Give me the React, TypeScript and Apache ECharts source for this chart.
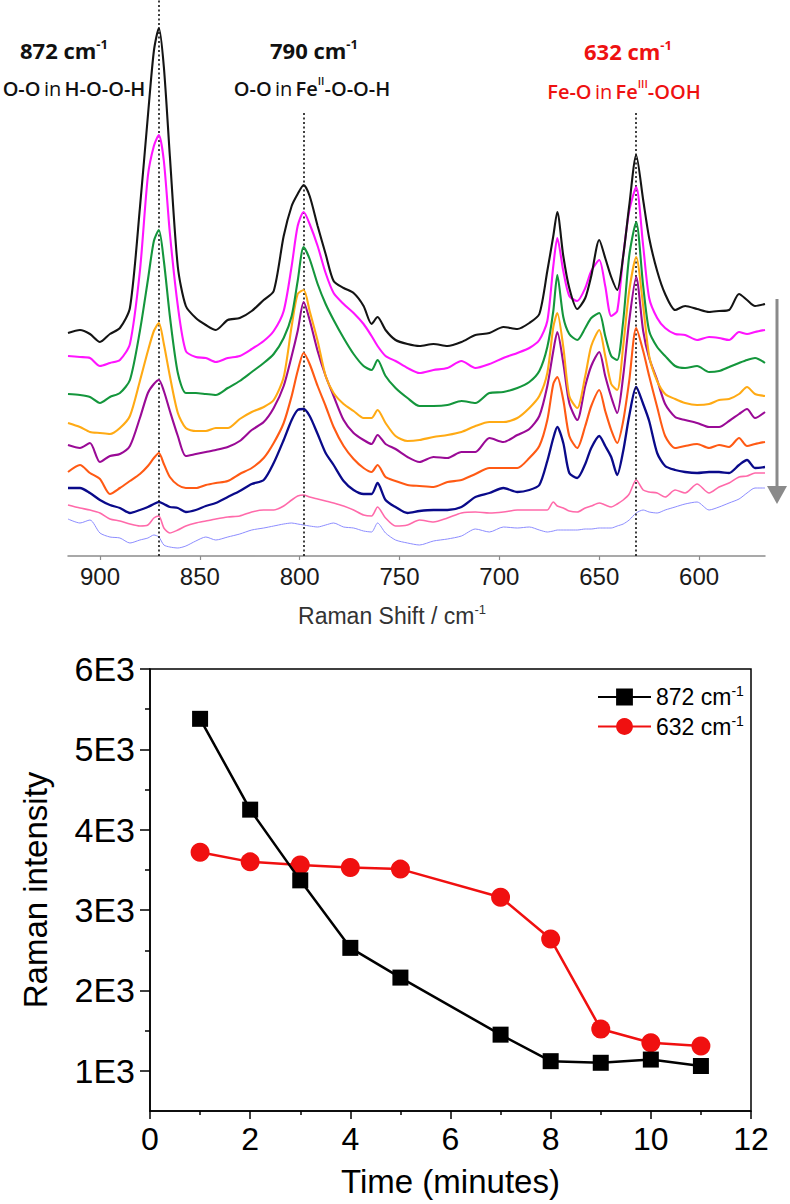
import React, { useEffect, useRef } from "react";
import * as echarts from "echarts";

// ---------- Top panel: Raman spectra (wavenumber grid, intensity in arbitrary offset units) ----------
const ramanShift = [
  916, 910, 905, 900, 895, 890, 885, 880, 876, 873,
  870.5, 868, 865, 861, 857, 852, 847, 842, 836, 830,
  824, 818, 813, 808, 804, 801, 798, 795, 791, 787,
  783, 778, 773, 768, 764, 761, 757, 752, 746, 740,
  733, 726, 719, 712, 705, 698, 691, 685, 680, 676,
  673, 671, 668, 665, 661, 657, 654, 650, 647, 644,
  641, 638, 635, 631.5, 628, 625, 621, 617, 612, 607,
  601, 595, 590, 585, 580, 576, 572, 567,
];

const traceBlack = [
  223, 226, 222, 214, 222, 228, 248, 348, 440, 505,
  528, 489, 400, 289, 250, 238, 231, 226, 236, 238,
  245, 256, 265, 320, 350, 362, 371, 360, 330, 302,
  275, 268, 263, 250, 232, 239, 226, 216, 212, 210,
  212, 210, 214, 221, 223, 229, 227, 233, 242, 285,
  320, 344, 300, 268, 247, 258, 280, 316, 298, 279,
  266, 300, 350, 401, 356, 318, 285, 262, 246, 250,
  247, 244, 245, 246, 262, 256, 250, 252,
];
const traceMagenta = [
  200, 199, 198, 190, 193, 196, 212, 285, 380, 410,
  421, 395, 323, 250, 205, 199, 198, 194, 198, 200,
  207, 215, 225, 245, 290, 330, 344, 332, 310, 283,
  263, 252, 243, 232, 220, 210, 200, 195, 188, 183,
  186, 188, 195, 188, 192, 198, 203, 208, 216, 235,
  290, 318, 285, 260, 255, 268, 285, 296, 270, 240,
  245, 300, 345, 369, 310, 258, 238, 228, 222, 221,
  216, 219, 218, 216, 224, 222, 224, 226,
];
const traceGreen = [
  162, 161, 159, 153, 159, 163, 176, 225, 276, 315,
  326, 295, 240, 183, 163, 163, 162, 161, 168, 175,
  184, 193, 202, 218, 240, 275, 309, 297, 272, 252,
  236, 218, 202, 190, 186, 196, 180, 168, 158, 150,
  150, 151, 155, 153, 163, 164, 168, 174, 185, 209,
  245, 281, 239, 222, 216, 228, 238, 243, 220, 200,
  196, 235, 300, 334, 270, 225, 209, 200, 190, 188,
  190, 184, 185, 189, 193, 196, 198, 193,
];
const traceOrange = [
  133, 129, 124, 123, 122, 128, 140, 175, 205, 225,
  233, 212, 180, 143, 128, 125, 125, 128, 128, 137,
  144, 149, 156, 179, 230, 262, 266, 245, 215, 180,
  163, 152, 145, 138, 138, 146, 133, 120, 115, 116,
  119, 121, 124, 130, 134, 134, 138, 148, 160, 183,
  229, 243, 209, 160, 148, 180, 210, 226, 200, 172,
  166, 210, 265, 299, 250, 200, 175, 162, 157, 153,
  151, 152, 156, 157, 162, 169, 162, 160,
];
const tracePurple = [
  111, 108, 113, 94, 100, 102, 110, 138, 163, 172,
  176, 165, 145, 120, 100, 102, 104, 106, 109, 115,
  126, 134, 148, 170, 200, 225, 254, 236, 205, 180,
  160, 136, 123, 116, 112, 121, 112, 107, 99, 94,
  99, 98, 104, 104, 118, 114, 121, 127, 140, 170,
  205, 224, 193, 153, 136, 170, 190, 204, 180, 159,
  143, 180, 235, 279, 225, 198, 176, 152, 139, 136,
  133, 129, 129, 135, 142, 147, 138, 144,
];
const traceOrangeRed = [
  84, 91, 83, 77, 62, 68, 75, 82, 90, 98,
  103, 92, 79, 71, 68, 68, 71, 73, 75, 82,
  88, 98, 113, 133, 160, 185, 203, 192, 170, 150,
  129, 110, 97, 88, 84, 91, 79, 75, 71, 70,
  69, 74, 76, 82, 88, 88, 88, 98, 110, 136,
  172, 179, 156, 120, 108, 130, 150, 166, 145, 126,
  113, 135, 175, 228, 205, 180, 149, 120, 108, 110,
  112, 108, 111, 109, 118, 110, 112, 114,
];
const traceNavy = [
  68, 68, 63, 56, 51, 48, 43, 46, 49, 52,
  54, 52, 49, 48, 44, 46, 50, 53, 59, 65,
  72, 76, 93, 116, 136, 146, 147, 140, 122, 103,
  91, 75, 66, 62, 62, 73, 56, 49, 43, 45,
  46, 46, 49, 59, 63, 68, 64, 66, 71, 95,
  118, 129, 113, 83, 78, 92, 108, 120, 110, 99,
  81, 105, 140, 169, 152, 135, 103, 90, 86, 84,
  83, 84, 84, 83, 91, 96, 88, 89,
];
const tracePink = [
  51, 48, 46, 43, 37, 35, 32, 30, 31, 38,
  40, 28, 23, 26, 30, 33, 35, 37, 39, 40,
  44, 46, 46, 50, 56, 60, 61, 59, 57, 55,
  53, 50, 46, 41, 40, 49, 38, 30, 31, 36,
  34, 38, 43, 44, 43, 44, 46, 46, 46, 46,
  54, 50, 48, 45, 44, 48, 50, 53, 51, 49,
  52, 56, 62, 76, 66, 64, 63, 59, 66, 63,
  72, 63, 69, 73, 79, 80, 83, 83,
];
const traceLightBlue = [
  37, 33, 36, 23, 19, 18, 13, 16, 18, 21,
  19, 11, 9, 8, 10, 15, 19, 16, 19, 22,
  26, 28, 30, 32, 33, 32, 31, 30, 29, 31,
  33, 29, 28, 25, 24, 33, 23, 16, 13, 11,
  15, 17, 20, 27, 24, 29, 28, 29, 26, 24,
  25, 26, 26, 26, 26, 27, 27, 28, 28, 28,
  30, 32, 36, 43, 46, 44, 43, 46, 49, 52,
  54, 46, 49, 53, 57, 63, 68, 68,
];

const shiftTicks = [900, 850, 800, 750, 700, 650, 600];
const peakPositions = [870.5, 798, 631.5];
const peakLineTops = [556, 444, 443];

// ---------- Bottom panel: intensity vs time ----------
const timeMinutes = [1, 2, 3, 4, 5, 7, 8, 9, 10, 11];
const intensity872 = [5380, 4250, 3370, 2530, 2160, 1450, 1120, 1100, 1140, 1060];
const intensity632 = [3720, 3600, 3560, 3530, 3510, 3160, 2640, 1520, 1350, 1310];
const intensityTicks = [1000, 2000, 3000, 4000, 5000, 6000];
const intensityMinorTicks = [1500, 2500, 3500, 4500, 5500];

const SANS = "'Liberation Sans', Arial, sans-serif";
const ANN = "'Open Sans', 'Liberation Sans', sans-serif";

export default function App() {
  const ref = useRef<HTMLDivElement>(null);

  useEffect(() => {
    if (!ref.current) return;
    const chart = echarts.init(ref.current, null, { renderer: "svg" });

    const spectra = [
      { name: "s9", values: traceLightBlue, color: "#8c8cff", width: 1 },
      { name: "s8", values: tracePink, color: "#ff6aaa", width: 1.6 },
      { name: "s7", values: traceNavy, color: "#0a0a8a", width: 2.3 },
      { name: "s6", values: traceOrangeRed, color: "#ff5a14", width: 2.1 },
      { name: "s5", values: tracePurple, color: "#9a0a96", width: 2.1 },
      { name: "s4", values: traceOrange, color: "#ffaa14", width: 2.1 },
      { name: "s3", values: traceGreen, color: "#14963c", width: 2.1 },
      { name: "s2", values: traceMagenta, color: "#ff14ff", width: 2.1 },
      { name: "s1", values: traceBlack, color: "#141414", width: 2.1 },
    ];

    const spectraSeries: any[] = spectra.map((s, idx) => ({
      type: "line",
      name: s.name,
      xAxisIndex: 0,
      yAxisIndex: 0,
      data: ramanShift.map((x, i) => [x, s.values[i]]),
      showSymbol: false,
      symbol: "none",
      smooth: 0.25,
      lineStyle: { color: s.color, width: s.width },
      silent: true,
      z: 2 + idx,
    }));

    // dotted peak guide lines
    spectraSeries.push({
      type: "line",
      name: "guides",
      xAxisIndex: 0,
      yAxisIndex: 0,
      data: [],
      silent: true,
      z: 20,
      markLine: {
        silent: true,
        symbol: ["none", "none"],
        label: { show: false },
        lineStyle: { color: "#111", type: [2, 2.5], width: 1.6 },
        data: peakPositions.map((p, i) => [
          { coord: [p, 0] },
          { coord: [p, peakLineTops[i]] },
        ]),
      },
    });

    const supStyle = (size: number, color: string, weight: string) => ({
      fontSize: size,
      fontFamily: ANN,
      fill: color,
      color,
      fontWeight: weight,
      verticalAlign: "top",
      lineHeight: 26,
    });
    const mainStyle = (size: number, color: string, weight: string) => ({
      fontSize: size,
      fontFamily: ANN,
      fill: color,
      color,
      fontWeight: weight,
      lineHeight: 26,
    });

    const annRich = (color: string) => ({
      h: mainStyle(22, color, "bold"),
      hs: supStyle(13, color, "bold"),
      b: mainStyle(20, color, "600"),
      r: mainStyle(20, color, "normal"),
      bs: supStyle(11, color, "600"),
    });

    const annText = (x: number, y: number, text: string, color: string) => ({
      type: "text",
      x,
      y,
      silent: true,
      style: {
        text,
        rich: annRich(color),
        fill: color,
        align: "center",
        verticalAlign: "middle",
        textAlign: "center",
        textVerticalAlign: "middle",
      },
    });

    const option: any = {
      animation: false,
      backgroundColor: "#ffffff",
      grid: [
        { left: 68, right: 25, top: 0, height: 556 },
        {
          left: 150,
          right: 39,
          top: 669,
          height: 442,
          show: true,
          borderColor: "#000",
          borderWidth: 1.5,
          backgroundColor: "transparent",
        },
      ],
      xAxis: [
        {
          gridIndex: 0,
          type: "value",
          inverse: true,
          min: 567,
          max: 916,
          axisLine: { lineStyle: { color: "#8c8c8c", width: 1.5 } },
          axisTick: {
            customValues: shiftTicks,
            length: 4,
            lineStyle: { color: "#8c8c8c", width: 1.2 },
          },
          axisLabel: {
            customValues: shiftTicks,
            fontSize: 24,
            color: "#1a1a1a",
            fontFamily: SANS,
            margin: 8,
          },
          splitLine: { show: false },
        },
        {
          gridIndex: 1,
          type: "value",
          min: 0,
          max: 12,
          interval: 2,
          axisLine: { lineStyle: { color: "#000", width: 1.5 } },
          axisTick: { length: 8, lineStyle: { color: "#000", width: 1.5 } },
          minorTick: {
            show: true,
            splitNumber: 2,
            length: 4,
            lineStyle: { color: "#000", width: 1.5 },
          },
          minorSplitLine: { show: false },
          axisLabel: {
            fontSize: 32,
            color: "#000",
            fontFamily: SANS,
            margin: 12,
            showMinLabel: true,
            showMaxLabel: true,
          },
          splitLine: { show: false },
          name: "Time (minutes)",
          nameLocation: "middle",
          nameGap: 54,
          nameTextStyle: { fontSize: 33, color: "#000", fontFamily: SANS },
        },
      ],
      yAxis: [
        { gridIndex: 0, type: "value", min: 0, max: 556, show: false },
        {
          gridIndex: 1,
          type: "value",
          min: 500,
          max: 6000,
          axisLine: { show: true, lineStyle: { color: "#000", width: 1.5 } },
          axisTick: {
            show: true,
            customValues: intensityTicks,
            length: 10,
            lineStyle: { color: "#000", width: 1.5 },
          },
          axisLabel: {
            customValues: intensityTicks,
            formatter: (v: number) => `${Math.round(v / 1000)}E3`,
            fontSize: 34,
            color: "#000",
            fontFamily: SANS,
            margin: 15,
          },
          splitLine: { show: false },
          name: "Raman intensity",
          nameLocation: "middle",
          nameGap: 98,
          nameRotate: 90,
          nameTextStyle: { fontSize: 33, color: "#000", fontFamily: SANS },
        },
        {
          gridIndex: 1,
          type: "value",
          min: 500,
          max: 6000,
          position: "left",
          axisLine: { show: false },
          axisTick: {
            show: true,
            customValues: intensityMinorTicks,
            length: 5,
            lineStyle: { color: "#000", width: 1.5 },
          },
          axisLabel: { show: false },
          splitLine: { show: false },
        },
      ],
      legend: {
        orient: "vertical",
        left: 592,
        top: 679,
        itemWidth: 53,
        itemHeight: 21,
        itemGap: 5,
        data: ["872 cm-1", "632 cm-1"],
        formatter: (n: string) => `{n|${n.replace("-1", "")}}{s|-1}`,
        textStyle: {
          rich: {
            n: { fontSize: 23, color: "#000", fontFamily: SANS, lineHeight: 26 },
            s: {
              fontSize: 14,
              color: "#000",
              fontFamily: SANS,
              verticalAlign: "top",
              lineHeight: 26,
            },
          },
        },
        selectedMode: false,
      },
      series: [
        ...spectraSeries,
        {
          type: "line",
          name: "872 cm-1",
          xAxisIndex: 1,
          yAxisIndex: 1,
          data: timeMinutes.map((t, i) => [t, intensity872[i]]),
          symbol: "rect",
          symbolSize: 16,
          itemStyle: { color: "#000" },
          lineStyle: { color: "#000", width: 2.5 },
          z: 5,
        },
        {
          type: "line",
          name: "632 cm-1",
          xAxisIndex: 1,
          yAxisIndex: 1,
          data: timeMinutes.map((t, i) => [t, intensity632[i]]),
          symbol: "circle",
          symbolSize: 19,
          itemStyle: { color: "#f01010" },
          lineStyle: { color: "#f01010", width: 2.5 },
          z: 4,
        },
      ],
      graphic: [
        annText(64, 50, "{h|872 cm}{hs|-1}", "#111111"),
        annText(74, 88, "{b|O-O} {r|in} {b|H-O-O-H}", "#111111"),
        annText(314, 50, "{h|790 cm}{hs|-1}", "#111111"),
        annText(312, 88, "{b|O-O} {r|in} {b|Fe}{bs|II}{b|-O-O-H}", "#111111"),
        annText(628, 51, "{h|632 cm}{hs|-1}", "#ee1111"),
        annText(624, 91, "{b|Fe-O} {r|in} {b|Fe}{bs|III}{b|-OOH}", "#ee1111"),
        {
          type: "text",
          x: 392,
          y: 616,
          silent: true,
          style: {
            text: "{n|Raman Shift / cm}{s|-1}",
            rich: {
              n: { fontSize: 23, fill: "#333", color: "#333", fontFamily: SANS, lineHeight: 26 },
              s: {
                fontSize: 13,
                fill: "#333",
                color: "#333",
                fontFamily: SANS,
                verticalAlign: "top",
                lineHeight: 26,
              },
            },
            align: "center",
            verticalAlign: "middle",
            textAlign: "center",
            textVerticalAlign: "middle",
          },
        },
        {
          type: "line",
          silent: true,
          shape: { x1: 777, y1: 299, x2: 777, y2: 490 },
          style: { stroke: "#8a8a8a", lineWidth: 3 },
        },
        {
          type: "polygon",
          silent: true,
          shape: {
            points: [
              [767, 486],
              [787, 486],
              [777, 504],
            ],
          },
          style: { fill: "#8a8a8a" },
        },
      ],
    };

    chart.setOption(option);
    return () => chart.dispose();
  }, []);

  return (
    <div
      ref={ref}
      style={{
        position: "absolute",
        left: 0,
        top: 0,
        width: 790,
        height: 1204,
        background: "#fff",
      }}
    />
  );
}
